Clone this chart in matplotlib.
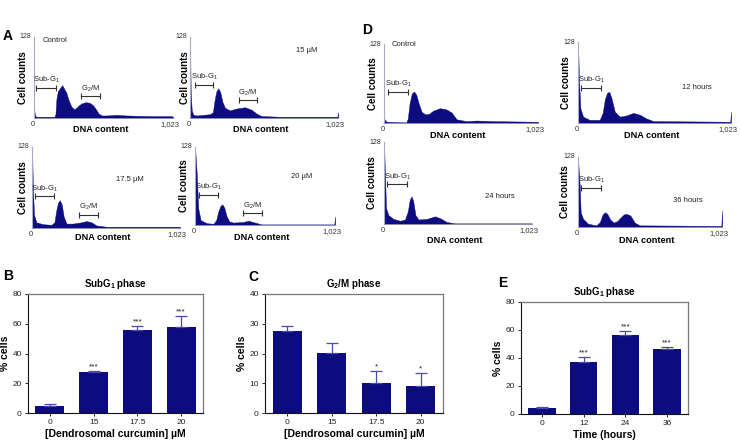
import matplotlib.pyplot as plt

plt.rcParams['font.family'] = ['Liberation Sans', 'DejaVu Sans']
plt.rcParams['mathtext.fontset'] = 'custom'
plt.rcParams['mathtext.rm'] = 'Liberation Sans'
plt.rcParams['mathtext.bf'] = 'Liberation Sans:bold'

W, H = 740, 441
navy = '#0c0c80'
err_blue = '#4b4ba6'

# ---- flow cytometry histograms: knots of (DNA content, cell counts) ----
a_ctrl_x = [0, 4, 10, 20, 150, 158, 165, 175, 190, 208, 222, 238, 255, 275, 295, 312, 330, 350, 380, 410, 435, 455, 475, 500, 532, 606, 680, 851, 1010, 1023]
a_ctrl_y = [20, 8, 3, 2, 2, 6, 30, 42, 47, 52, 46, 40, 28, 18, 14, 16, 20, 23, 25, 24, 20, 14, 7, 4, 4, 5, 4, 3, 3, 2]

a_15_x = [0, 5, 12, 23, 46, 92, 138, 158, 170, 182, 196, 210, 225, 242, 276, 322, 380, 426, 460, 495, 621, 1018, 1023]
a_15_y = [128, 41, 12, 5, 4, 5, 6, 9, 28, 42, 47, 40, 25, 16, 12, 15, 17, 13, 7, 3, 2, 2, 9]

a_175_x = [0, 7, 14, 30, 76, 134, 155, 168, 180, 192, 206, 219, 238, 284, 342, 377, 411, 446, 515, 1023]
a_175_y = [128, 57, 21, 9, 6, 5, 9, 28, 40, 44, 37, 18, 7, 7, 9, 11, 9, 4, 2, 2]

a_20_x = [0, 12, 24, 41, 85, 134, 155, 170, 185, 200, 215, 230, 250, 280, 353, 390, 438, 487, 1018, 1023]
a_20_y = [128, 87, 27, 8, 3, 2, 8, 22, 31, 34, 28, 15, 6, 4, 5, 7, 4, 1, 1, 14]

d_ctrl_x = [0, 4, 18, 148, 158, 170, 185, 200, 214, 230, 250, 275, 300, 327, 371, 415, 449, 482, 548, 614, 725, 1023]
d_ctrl_y = [12, 5, 2, 1, 7, 32, 48, 51, 46, 32, 18, 14, 15, 20, 24, 22, 17, 6, 3, 4, 3, 2]

d_12_x = [0, 7, 16, 34, 78, 145, 165, 180, 195, 210, 225, 246, 280, 325, 369, 414, 459, 504, 1018, 1023]
d_12_y = [128, 65, 23, 10, 5, 5, 16, 38, 48, 49, 38, 18, 10, 12, 16, 13, 7, 3, 2, 18]

d_24_x = [0, 7, 14, 30, 65, 111, 145, 165, 178, 190, 202, 217, 238, 296, 353, 388, 434, 492, 1023]
d_24_y = [128, 76, 25, 14, 8, 5, 7, 20, 38, 43, 36, 14, 7, 8, 12, 9, 3, 1, 1]

d_36_x = [0, 12, 19, 36, 71, 130, 155, 175, 192, 208, 228, 253, 280, 305, 325, 345, 372, 403, 438, 1018, 1023]
d_36_y = [125, 76, 27, 15, 6, 3, 9, 23, 27, 24, 14, 8, 11, 18, 23, 24, 21, 8, 3, 2, 30]

# ---- bar charts ----
dose_labels = ['0', '15', '17.5', '20']
subg1_dose = [4.9, 27.4, 56, 57.8]
subg1_dose_err = [1.1, 0.6, 2.7, 7.2]
subg1_dose_sig = ['', '***', '***', '***']

g2m_dose = [27.7, 20.2, 10.1, 9.2]
g2m_dose_err = [1.4, 3.3, 3.9, 4.2]
g2m_dose_sig = ['', '', '*', '*']

time_labels = ['0', '12', '24', '36']
subg1_time = [4.5, 36.8, 56.3, 46.6]
subg1_time_err = [0.7, 3.6, 2.8, 1.4]
subg1_time_sig = ['', '***', '***', '***']

fig = plt.figure(figsize=(W / 100, H / 100), dpi=100)


def add_ax(l, r, t, b):
    return fig.add_axes([l / W, 1 - b / H, (r - l) / W, (b - t) / H])


def ftext(x, y, s, **kw):
    fig.text(x / W, 1 - y / H, s, **kw)


def hist_panel(rect, xs, ys, label, label_xy, label_ha, brackets, ylab_x, xlab_y):
    l, r, t, b = rect
    ax = add_ax(l, r, t, b)
    ax.fill_between(xs, ys, 0, color=navy, lw=0.3, edgecolor=navy)
    ax.set_xlim(0, 1023)
    ax.set_ylim(0, 128)
    ax.set_xticks([])
    ax.set_yticks([])
    for s in ['top', 'right']:
        ax.spines[s].set_visible(False)
    ax.spines['left'].set_color('#a8a8c8')
    ax.spines['left'].set_linewidth(0.8)
    ax.spines['bottom'].set_color('#9a9ab0')
    ax.spines['bottom'].set_linewidth(0.6)
    ax.patch.set_alpha(0)
    ax.text(-0.02, 1.0, '128', transform=ax.transAxes, ha='right', va='center', fontsize=5, color='#333333')
    ax.text(-0.01, -0.04, '0', transform=ax.transAxes, ha='center', va='top', fontsize=5.5, color='#333333')
    ax.text(0.98, -0.04, '1,023', transform=ax.transAxes, ha='center', va='top', fontsize=5.5, color='#333333')
    ax.text(label_xy[0], label_xy[1], label, ha=label_ha, va='center', fontsize=5.5, color='#222222')
    for x0, x1, y, txt in brackets:
        ax.plot([x0, x1], [y, y], color='#333333', lw=0.8, marker='|', ms=4, mew=0.8)
        ax.annotate(txt, ((x0 + x1) / 2, y), xytext=(0, 2), textcoords='offset points',
                    ha='center', va='bottom', fontsize=5.5, color='#222222')
    ftext(ylab_x, (t + b) / 2, 'Cell counts', rotation=90, ha='center', va='center',
          fontsize=7, fontweight='bold')
    ftext((l + r) / 2 - 3, xlab_y, 'DNA content', ha='center', va='center',
          fontsize=6.6, fontweight='bold')
    return ax


sub = 'Sub-G$_1$'
g2m = 'G$_2$/M'

hist_panel((34, 173, 37, 118), a_ctrl_x, a_ctrl_y, 'Control', (66, 122), 'left',
           [(17, 160, 48, sub), (348, 483, 34, g2m)], 23, 130)
hist_panel((190, 338, 37, 118), a_15_x, a_15_y, '15 µM', (805, 107), 'center',
           [(35, 161, 52, sub), (338, 464, 28, g2m)], 185, 130)
hist_panel((32, 180, 147, 228), a_175_x, a_175_y, '17.5 µM', (677, 76), 'center',
           [(18, 150, 50, sub), (326, 458, 21, g2m)], 23, 238)
hist_panel((195, 335, 147, 225), a_20_x, a_20_y, '20 µM', (780, 79), 'center',
           [(32, 170, 49, sub), (353, 492, 19, g2m)], 184, 237)
hist_panel((384, 538, 44, 123), d_ctrl_x, d_ctrl_y, 'Control', (51, 128), 'left',
           [(29, 161, 50, sub)], 373, 135)
hist_panel((578, 731, 42, 123), d_12_x, d_12_y, '12 hours', (794, 56), 'center',
           [(22, 157, 56, sub)], 566, 135)
hist_panel((384, 532, 142, 224), d_24_x, d_24_y, '24 hours', (804, 43), 'center',
           [(23, 162, 62, sub)], 372, 240)
hist_panel((578, 722, 157, 227), d_36_x, d_36_y, '36 hours', (781, 49), 'center',
           [(24, 166, 71, sub)], 565, 240)


def bar_panel(rect, cats, means, errs, sig, ymax, ystep, title, xlabel):
    l, r, t, b = rect
    ax = add_ax(l, r, t, b)
    pos = list(range(len(cats)))
    ax.bar(pos, means, width=0.66, color=navy, zorder=2)
    ax.errorbar(pos, means, yerr=[[0] * len(errs), errs], fmt='none', ecolor=err_blue,
                elinewidth=0.9, capsize=4.5, capthick=0.9, zorder=3)
    for p, m, e, s in zip(pos, means, errs, sig):
        if s:
            ax.annotate(s, (p, m + e), xytext=(0, 0.5), textcoords='offset points',
                        ha='center', va='bottom', fontsize=6, color='#222222')
    ax.set_xlim(-0.5, len(cats) - 0.5)
    ax.set_ylim(0, ymax)
    ax.set_yticks(range(0, ymax + 1, ystep))
    ax.set_xticks(pos)
    ax.set_xticklabels(cats)
    ax.tick_params(labelsize=6, length=2.5, width=0.7, pad=2, colors='#222222')
    for s in ['top', 'right']:
        ax.spines[s].set_color('#777777')
        ax.spines[s].set_linewidth(0.9)
    for s in ['left', 'bottom']:
        ax.spines[s].set_color('#111111')
        ax.spines[s].set_linewidth(0.8)
    ax.set_title(title, fontsize=7, fontweight='bold', pad=5)
    ax.set_xlabel(xlabel, fontsize=7.5, fontweight='bold', labelpad=2)
    ax.set_ylabel('% cells', fontsize=7.5, fontweight='bold', labelpad=1.5)
    return ax


bar_panel((28, 203, 294, 413), dose_labels, subg1_dose, subg1_dose_err, subg1_dose_sig,
          80, 20, r'SubG$_\mathbf{1}$ phase', '[Dendrosomal curcumin] µM')
bar_panel((265, 443, 294, 413), dose_labels, g2m_dose, g2m_dose_err, g2m_dose_sig,
          40, 10, r'G$_\mathbf{2}$/M phase', '[Dendrosomal curcumin] µM')
bar_panel((521, 688, 302, 414), time_labels, subg1_time, subg1_time_err, subg1_time_sig,
          80, 20, r'SubG$_\mathbf{1}$ phase', 'Time (hours)')

for letter, x, y in [('A', 8, 36), ('D', 367, 30), ('B', 8, 276), ('C', 253, 277), ('E', 503, 283)]:
    ftext(x, y, letter, ha='center', va='center', fontsize=10, fontweight='bold')

fig.savefig('out.png', dpi=100)
